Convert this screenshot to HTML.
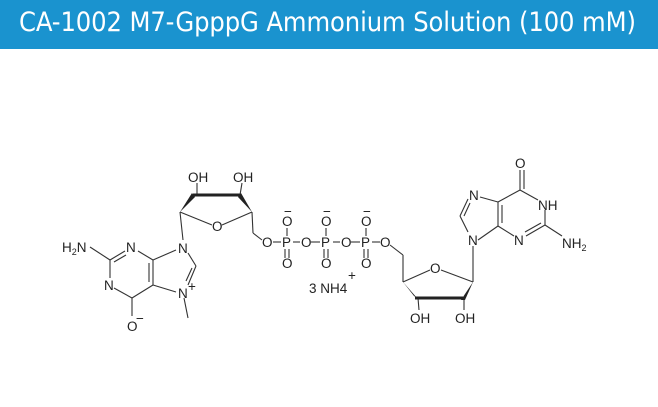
<!DOCTYPE html>
<html><head><meta charset="utf-8"><style>
html,body{margin:0;padding:0;background:#fff;}
body{width:658px;height:407px;overflow:hidden;position:relative;font-family:"Liberation Sans",sans-serif;}
.bar{position:absolute;left:0;top:0;width:658px;height:49px;background:#1a93cf;}
.bar span{position:absolute;left:19px;top:7px;color:#fff;font-size:27px;letter-spacing:-0.1px;white-space:nowrap;font-family:"DejaVu Sans Condensed","Liberation Sans",sans-serif;}
svg{position:absolute;left:0;top:0;}
text{font-family:"Liberation Sans",sans-serif;font-size:13.5px;fill:#222;}
</style></head><body>
<div class="bar"><span>CA-1002 M7-GpppG Ammonium Solution (100 mM)</span></div>
<svg width="658" height="407" viewBox="0 0 658 407">
<g stroke="#333" stroke-width="1.1" fill="none">
<line x1="90" y1="247" x2="110" y2="260"/>
<line x1="110" y1="260" x2="125" y2="251"/>
<line x1="114" y1="262" x2="126" y2="255"/>
<line x1="138" y1="251" x2="153" y2="260"/>
<line x1="153" y1="260" x2="153" y2="285"/>
<line x1="149" y1="263" x2="149" y2="282"/>
<line x1="153" y1="285" x2="132" y2="298"/>
<line x1="132" y1="298" x2="114" y2="288"/>
<line x1="110" y1="260" x2="110" y2="278"/>
<line x1="132" y1="298" x2="132" y2="316"/>
<line x1="153" y1="260" x2="176" y2="250"/>
<line x1="188" y1="253" x2="196" y2="266"/>
<line x1="196" y1="266" x2="188" y2="285"/>
<line x1="192" y1="268" x2="186" y2="281"/>
<line x1="153" y1="285" x2="176" y2="292"/>
<line x1="184" y1="298" x2="188" y2="318"/>
<line x1="183" y1="240" x2="180" y2="212"/>
<line x1="180" y1="212" x2="212" y2="225"/>
<line x1="222" y1="225" x2="252" y2="212"/>
<line x1="197" y1="195" x2="197" y2="183"/>
<line x1="240" y1="195" x2="242" y2="183"/>
<line x1="252" y1="212" x2="253" y2="233"/>
<line x1="253" y1="233" x2="262" y2="240"/>
<line x1="273" y1="242" x2="281" y2="242"/>
<line x1="293" y1="242" x2="300" y2="242"/>
<line x1="311" y1="242" x2="320" y2="242"/>
<line x1="333" y1="242" x2="340" y2="242"/>
<line x1="351" y1="242" x2="360" y2="242"/>
<line x1="372" y1="242" x2="380" y2="242"/>
<line x1="287" y1="228" x2="287" y2="236"/>
<line x1="326" y1="228" x2="326" y2="236"/>
<line x1="366" y1="228" x2="366" y2="236"/>
<line x1="285" y1="249" x2="285" y2="258"/><line x1="289" y1="249" x2="289" y2="258"/>
<line x1="324" y1="249" x2="324" y2="258"/><line x1="328" y1="249" x2="328" y2="258"/>
<line x1="364" y1="249" x2="364" y2="258"/><line x1="368" y1="249" x2="368" y2="258"/>
<line x1="390" y1="245" x2="403" y2="255"/>
<line x1="403" y1="255" x2="403" y2="282"/>
<line x1="403" y1="282" x2="430" y2="270"/>
<line x1="441" y1="270" x2="473" y2="282"/>
<line x1="418" y1="298" x2="419" y2="310"/>
<line x1="464" y1="298" x2="464" y2="310"/>
<line x1="473" y1="282" x2="473" y2="246"/>
<line x1="468" y1="232" x2="460" y2="216"/>
<line x1="460" y1="216" x2="468" y2="199"/>
<line x1="464" y1="216" x2="470" y2="203"/>
<line x1="480" y1="197" x2="498" y2="202"/>
<line x1="478" y1="240" x2="498" y2="226"/>
<line x1="498" y1="202" x2="498" y2="226"/>
<line x1="502" y1="205" x2="502" y2="223"/>
<line x1="498" y1="202" x2="520" y2="190"/>
<line x1="520" y1="190" x2="538" y2="200"/>
<line x1="545" y1="210" x2="545" y2="225"/>
<line x1="545" y1="225" x2="526" y2="236"/>
<line x1="541" y1="223" x2="525" y2="232"/>
<line x1="514" y1="236" x2="498" y2="226"/>
<line x1="545" y1="225" x2="562" y2="236"/>
<line x1="520" y1="190" x2="520" y2="170"/>
<line x1="524" y1="189" x2="524" y2="170"/>
</g>
<polygon points="180,212 192,193 195,197" fill="#222"/>
<line x1="193" y1="195" x2="240" y2="195" stroke="#222" stroke-width="3"/>
<polygon points="252,212 238,197 241,193" fill="#222"/>
<polygon points="403,282 417,298 414,296" fill="#222"/>
<line x1="415" y1="298" x2="463" y2="298" stroke="#222" stroke-width="3"/>
<polygon points="473,282 461,300 465,300" fill="#222"/>
<g>
<text x="62" y="252">H<tspan font-size="9" dy="3">2</tspan><tspan dy="-3">N</tspan></text>
<text x="126" y="252">N</text>
<text x="104" y="290">N</text>
<text x="127" y="331">O</text><text x="136" y="323" font-size="9">−</text>
<text x="178" y="253">N</text>
<text x="178" y="298">N</text><text x="188" y="291" font-size="9">+</text>
<text x="188" y="182">OH</text>
<text x="233" y="182">OH</text>
<text x="212" y="231">O</text>
<text x="262" y="247">O</text>
<text x="282" y="247">P</text>
<text x="282" y="226">O</text><text x="284" y="216" font-size="9">−</text>
<text x="282" y="268">O</text>
<text x="301" y="247">O</text>
<text x="321" y="247">P</text>
<text x="321" y="226">O</text><text x="323" y="216" font-size="9">−</text>
<text x="321" y="268">O</text>
<text x="341" y="247">O</text>
<text x="361" y="247">P</text>
<text x="361" y="226">O</text><text x="363" y="216" font-size="9">−</text>
<text x="361" y="268">O</text>
<text x="380" y="247">O</text>
<text x="309" y="293">3 NH4</text><text x="348" y="280" font-size="9">+</text>
<text x="430" y="273">O</text>
<text x="410" y="323">OH</text>
<text x="455" y="323">OH</text>
<text x="468" y="245">N</text>
<text x="469" y="200">N</text>
<text x="515" y="168">O</text>
<text x="538" y="210">NH</text>
<text x="514" y="245">N</text>
<text x="562" y="248">NH<tspan font-size="9" dy="3">2</tspan></text>
</g>
</svg>
</body></html>
